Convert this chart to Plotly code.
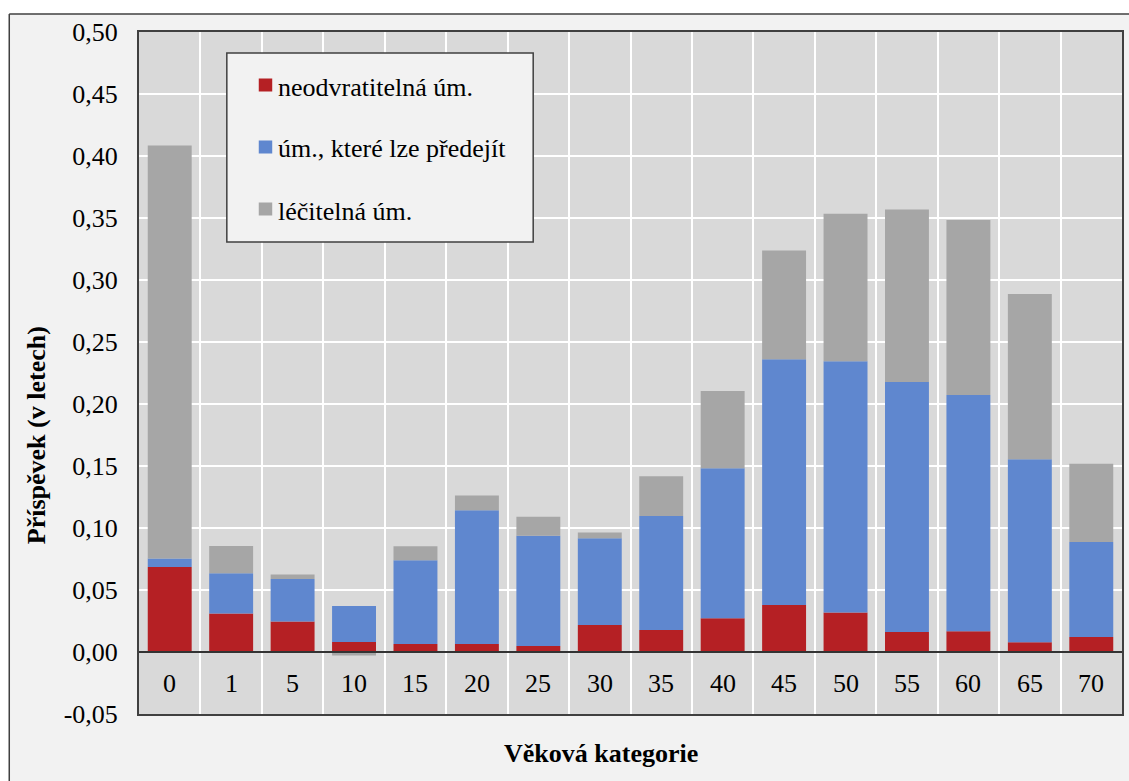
import plotly.graph_objects as go

# Age groups and contributions (years) by type of mortality
ages = ["0", "1", "5", "10", "15", "20", "25", "30", "35", "40", "45", "50", "55", "60", "65", "70"]
unavoidable = [0.0685, 0.031, 0.0245, 0.008, 0.0065, 0.0065, 0.0048, 0.0218, 0.0177, 0.0272,
               0.0379, 0.0318, 0.0161, 0.0167, 0.0078, 0.0121]
preventable = [0.007, 0.0325, 0.0344, 0.029, 0.0675, 0.1078, 0.089, 0.070, 0.092, 0.1209,
               0.1981, 0.2026, 0.2016, 0.1906, 0.1476, 0.0766]
treatable = [0.333, 0.022, 0.0035, -0.0028, 0.0112, 0.012, 0.0153, 0.0046, 0.032, 0.0624,
             0.0877, 0.1191, 0.1391, 0.1411, 0.1333, 0.0632]

series_names = ["neodvratitelná úm.", "úm., které lze předejít", "léčitelná úm."]
series_values = [unavoidable, preventable, treatable]
series_colors = ["#b52024", "#5f87cf", "#a6a6a6"]

y_ticks = [-0.05, 0.0, 0.05, 0.10, 0.15, 0.20, 0.25, 0.30, 0.35, 0.40, 0.45, 0.50]
y_ticktext = [f"{v:.2f}".replace(".", ",") for v in y_ticks]

FONT = "Liberation Serif"
FS = 26
W, H = 1129, 781
ML, MR, MT, MB = 139, 5, 32, 67
PW, PH = W - ML - MR, H - MT - MB


def px_x(px):
    return (px - ML) / PW


def px_y(py):
    return (H - MB - py) / PH


xpos = list(range(len(ages)))

fig = go.Figure()
for name, vals, col in zip(series_names, series_values, series_colors):
    fig.add_trace(go.Bar(
        x=xpos, y=vals, name=name, marker=dict(color=col, line=dict(width=0)),
        showlegend=False,
    ))

shapes = []
annotations = []

# page margin strips (white) around the light chart frame
shapes.append(dict(type="rect", xref="paper", yref="paper", x0=px_x(-5), x1=px_x(9),
                   y0=px_y(H + 5), y1=px_y(-5), fillcolor="white", line=dict(width=0), layer="below"))
shapes.append(dict(type="rect", xref="paper", yref="paper", x0=px_x(-5), x1=px_x(W + 5),
                   y0=px_y(14), y1=px_y(-5), fillcolor="white", line=dict(width=0), layer="below"))
shapes.append(dict(type="line", xref="paper", yref="paper", x0=px_x(9), x1=px_x(W + 5),
                   y0=px_y(14), y1=px_y(14), line=dict(color="#404040", width=1.5)))
shapes.append(dict(type="line", xref="paper", yref="paper", x0=px_x(9), x1=px_x(9),
                   y0=px_y(14), y1=px_y(H + 5), line=dict(color="#404040", width=1.5)))

# zero line on top of the bars
shapes.append(dict(type="line", xref="paper", yref="y", x0=0, x1=1, y0=0, y1=0,
                   line=dict(color="#333333", width=2), layer="above"))

# category labels inside the band below zero
for i, a in enumerate(ages):
    annotations.append(dict(x=i, y=-0.025, xref="x", yref="y", text=a, showarrow=False,
                            font=dict(family=FONT, size=FS, color="black"),
                            xanchor="center", yanchor="middle"))

# legend box
lx0, lx1, ly0, ly1 = 227, 534, 53, 242
shapes.append(dict(type="rect", xref="paper", yref="paper", x0=px_x(lx0), x1=px_x(lx1),
                   y0=px_y(ly1), y1=px_y(ly0), fillcolor="#f2f2f2",
                   line=dict(color="#404040", width=1.5), layer="above"))
for k, (name, col) in enumerate(zip(series_names, series_colors)):
    cy = 85 + k * 62
    shapes.append(dict(type="rect", xref="paper", yref="paper", x0=px_x(259), x1=px_x(272.5),
                       y0=px_y(cy + 6.5), y1=px_y(cy - 6.5), fillcolor=col,
                       line=dict(width=0), layer="above"))
    annotations.append(dict(x=px_x(276), y=px_y(cy + 2), xref="paper", yref="paper", text=name,
                            showarrow=False, xanchor="left", yanchor="middle",
                            font=dict(family=FONT, size=FS, color="black")))

# axis titles
annotations.append(dict(x=px_x(602), y=px_y(753), xref="paper", yref="paper",
                        text="<b>Věková kategorie</b>", showarrow=False,
                        xanchor="center", yanchor="middle",
                        font=dict(family=FONT, size=FS, color="black")))
annotations.append(dict(x=px_x(37), y=px_y(435), xref="paper", yref="paper",
                        text="<b>Příspěvek (v letech)</b>", showarrow=False, textangle=-90,
                        xanchor="center", yanchor="middle",
                        font=dict(family=FONT, size=FS, color="black")))

fig.update_layout(
    width=W, height=H,
    margin=dict(l=ML, r=MR, t=MT, b=MB, pad=0),
    barmode="relative", bargap=0.285,
    paper_bgcolor="#f2f2f2", plot_bgcolor="#d9d9d9",
    font=dict(family=FONT, size=FS, color="black"),
    shapes=shapes, annotations=annotations,
    showlegend=False,
)
fig.update_xaxes(
    range=[-0.5, len(ages) - 0.5],
    tickvals=[i + 0.5 for i in range(len(ages) - 1)],
    ticktext=[""] * (len(ages) - 1),
    showgrid=True, gridcolor="white", gridwidth=2,
    showline=True, mirror=True, linecolor="#404040", linewidth=2,
    zeroline=False, ticks="",
)
fig.update_yaxes(
    range=[-0.05, 0.50],
    tickvals=y_ticks, ticktext=y_ticktext,
    showgrid=True, gridcolor="white", gridwidth=2,
    showline=True, mirror=True, linecolor="#404040", linewidth=2,
    zeroline=False, ticks="", ticklabelstandoff=14,
    tickfont=dict(family=FONT, size=FS, color="black"),
)

fig.write_html("out.html")
